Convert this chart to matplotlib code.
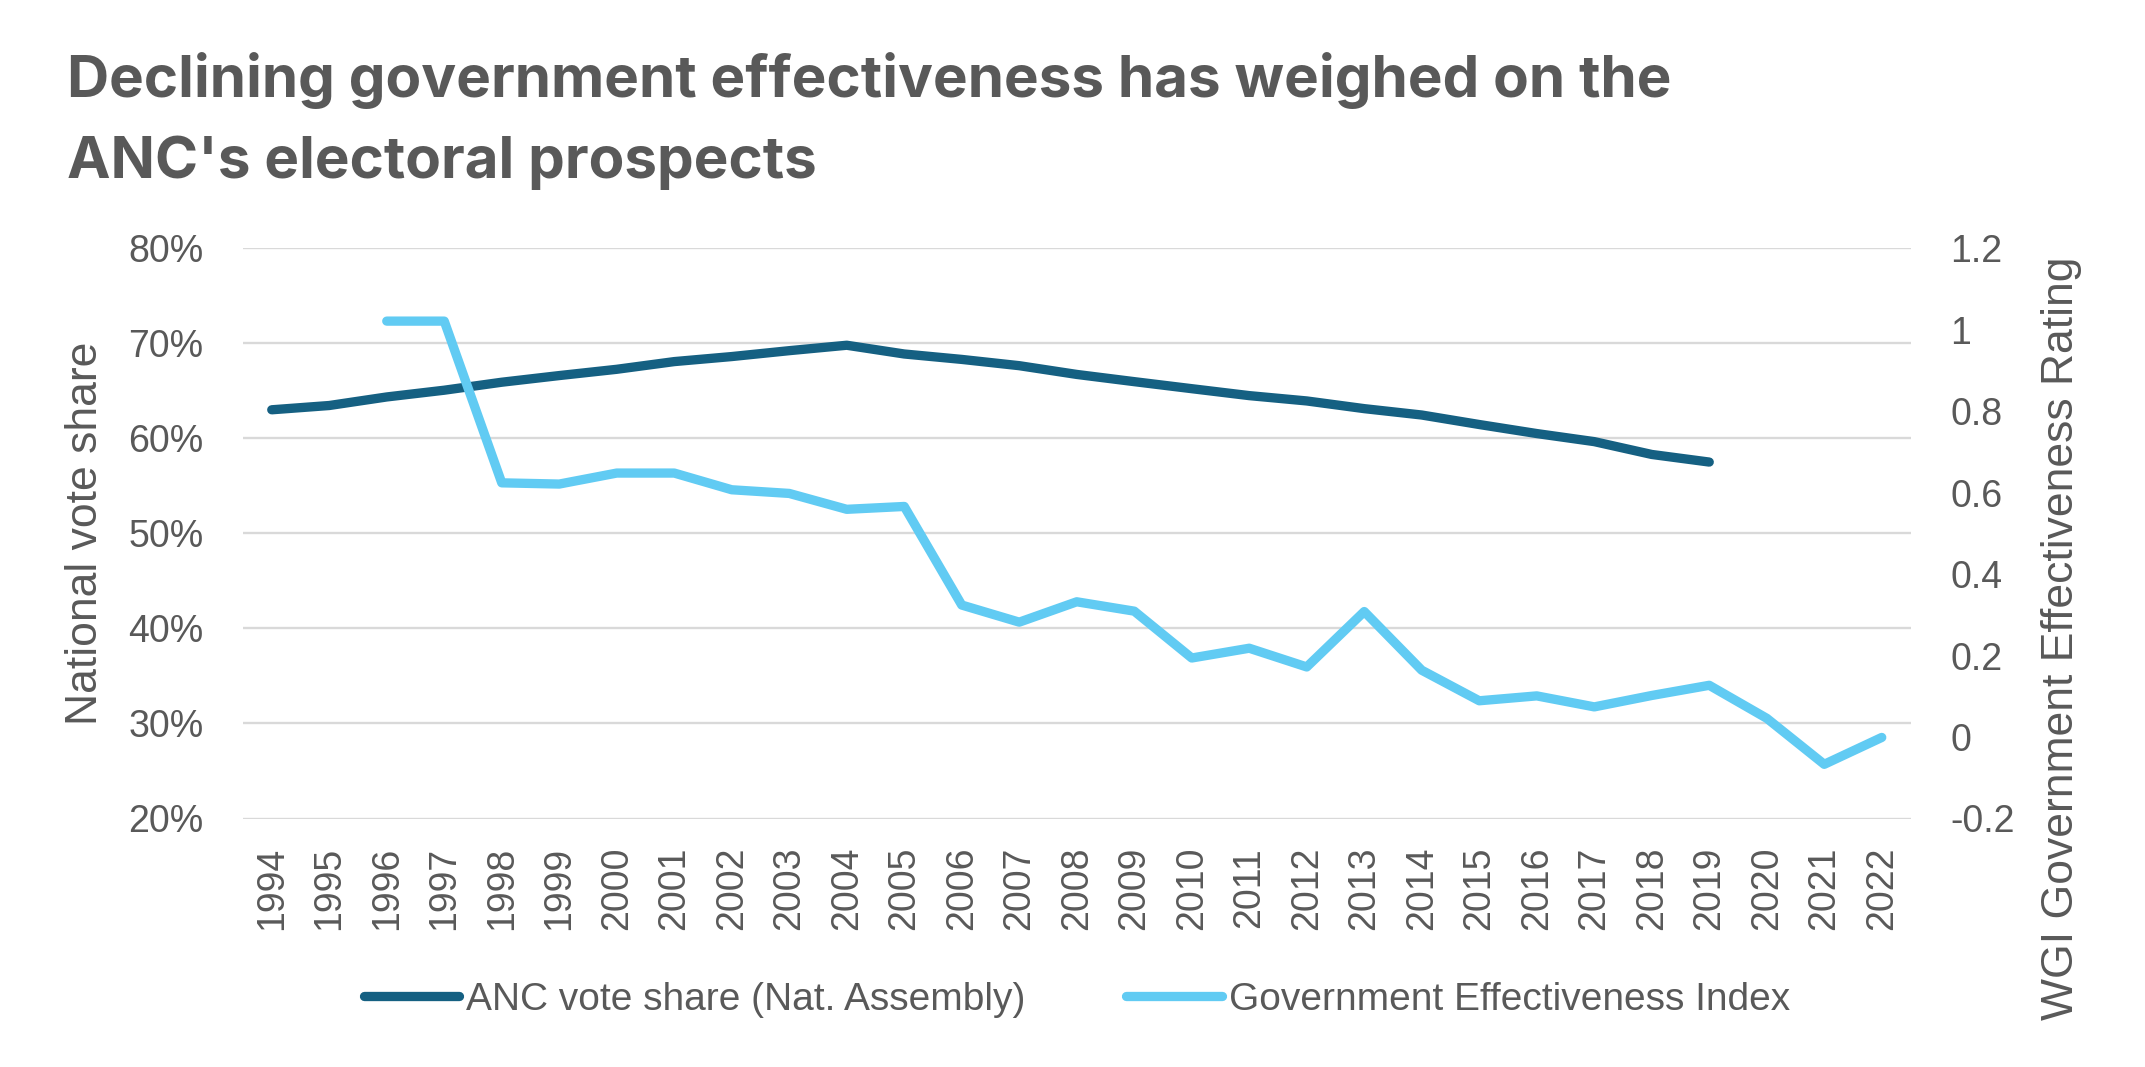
import matplotlib
matplotlib.use("Agg")
import matplotlib.pyplot as plt
from matplotlib.ticker import FixedLocator, FixedFormatter

# ---------------- data ----------------
years = list(range(1994, 2023))
anc_years = list(range(1994, 2020))
anc_vote_share = [63.0, 63.45, 64.35, 65.06, 65.9, 66.6, 67.26, 68.07, 68.6, 69.22,
                  69.79, 68.87, 68.3, 67.64, 66.72, 65.96, 65.22, 64.49, 63.93, 63.12,
                  62.45, 61.45, 60.5, 59.65, 58.3, 57.5]
ge_years = list(range(1996, 2023))
ge_index = [1.021, 1.021, 0.624, 0.621, 0.648, 0.648, 0.607, 0.598, 0.559, 0.566,
            0.324, 0.282, 0.332, 0.309, 0.194, 0.218, 0.172, 0.308, 0.164, 0.089,
            0.101, 0.074, 0.102, 0.127, 0.046, -0.067, -0.001]
left_ticks = [20, 30, 40, 50, 60, 70, 80]
left_labels = ["20%", "30%", "40%", "50%", "60%", "70%", "80%"]
right_ticks = [-0.2, 0.0, 0.2, 0.4, 0.6, 0.8, 1.0, 1.2]
right_labels = ["-0.2", "0", "0.2", "0.4", "0.6", "0.8", "1", "1.2"]
title_lines = ["Declining government effectiveness has weighed on the",
               "ANC's electoral prospects"]
left_label = "National vote share"
right_label = "WGI Government Effectiveness Rating"
series_names = ["ANC vote share (Nat. Assembly)", "Government Effectiveness Index"]

# ---------------- style ----------------
W, H = 2145, 1067
TXT = "#595959"
DARK = "#156082"
LIGHT = "#61CBF3"
GRID = "#D9D9D9"
FONT = ["Liberation Sans", "DejaVu Sans"]
plt.rcParams["font.family"] = FONT

fig = plt.figure(figsize=(W / 100, H / 100), dpi=100)
ax_l, ax_r, ax_t, ax_b = 243, 1910.5, 248.2, 818.5
ax = fig.add_axes([ax_l / W, 1 - ax_b / H, (ax_r - ax_l) / W, (ax_b - ax_t) / H])
ax2 = ax.twinx()

for a in (ax, ax2):
    for s in a.spines.values():
        s.set_visible(False)

ax.set_xlim(1993.5, 2022.5)
ax.set_ylim(20, 80)
ax2.set_ylim(-0.2, 1.2)

ax.yaxis.set_major_locator(FixedLocator(left_ticks))
ax.yaxis.set_major_formatter(FixedFormatter(left_labels))
ax2.yaxis.set_major_locator(FixedLocator(right_ticks))
ax2.yaxis.set_major_formatter(FixedFormatter(right_labels))
ax.set_xticks(years)
ax.set_xticklabels([str(y) for y in years], rotation=90)

ax.grid(axis="y", color=GRID, linewidth=1.7)
ax.set_axisbelow(True)

ax.tick_params(axis="y", length=0, pad=28.5, labelsize=27, labelcolor=TXT)
ax2.tick_params(axis="y", length=0, pad=28.5, labelsize=27, labelcolor=TXT)
ax.tick_params(axis="x", length=0, pad=20.5, labelsize=27, labelcolor=TXT)

l1, = ax.plot(anc_years, anc_vote_share, color=DARK, linewidth=6.7,
              solid_capstyle="round", solid_joinstyle="round", zorder=3)
l2, = ax2.plot(ge_years, ge_index, color=LIGHT, linewidth=6.7,
               solid_capstyle="round", solid_joinstyle="round", zorder=3)

# axis titles
fig.text(86 / W, 1 - 533 / H, left_label, rotation=90, ha="center", va="center",
         fontsize=32, color=TXT)
fig.text(2062 / W, 1 - 638 / H, right_label, rotation=90, ha="center", va="center",
         fontsize=32, color=TXT)

# title
TFONT = ["Inter", "DejaVu Sans"]
fig.text(67 / W, 1 - 97 / H, title_lines[0], ha="left", va="baseline",
         fontsize=42, fontweight="bold", color=TXT, family=TFONT)
fig.text(67 / W, 1 - 178 / H, title_lines[1], ha="left", va="baseline",
         fontsize=42, fontweight="bold", color=TXT, family=TFONT)

# legend
fig.legend([l1, l2], series_names, loc="center",
           bbox_to_anchor=((ax_l + ax_r) / 2 / W, 1 - 1000 / H),
           ncol=2, frameon=False, fontsize=28, labelcolor=TXT,
           handlelength=2.45, handletextpad=0.18, columnspacing=2.6, borderpad=0)

fig.savefig("out.png", dpi=100, facecolor="white")
